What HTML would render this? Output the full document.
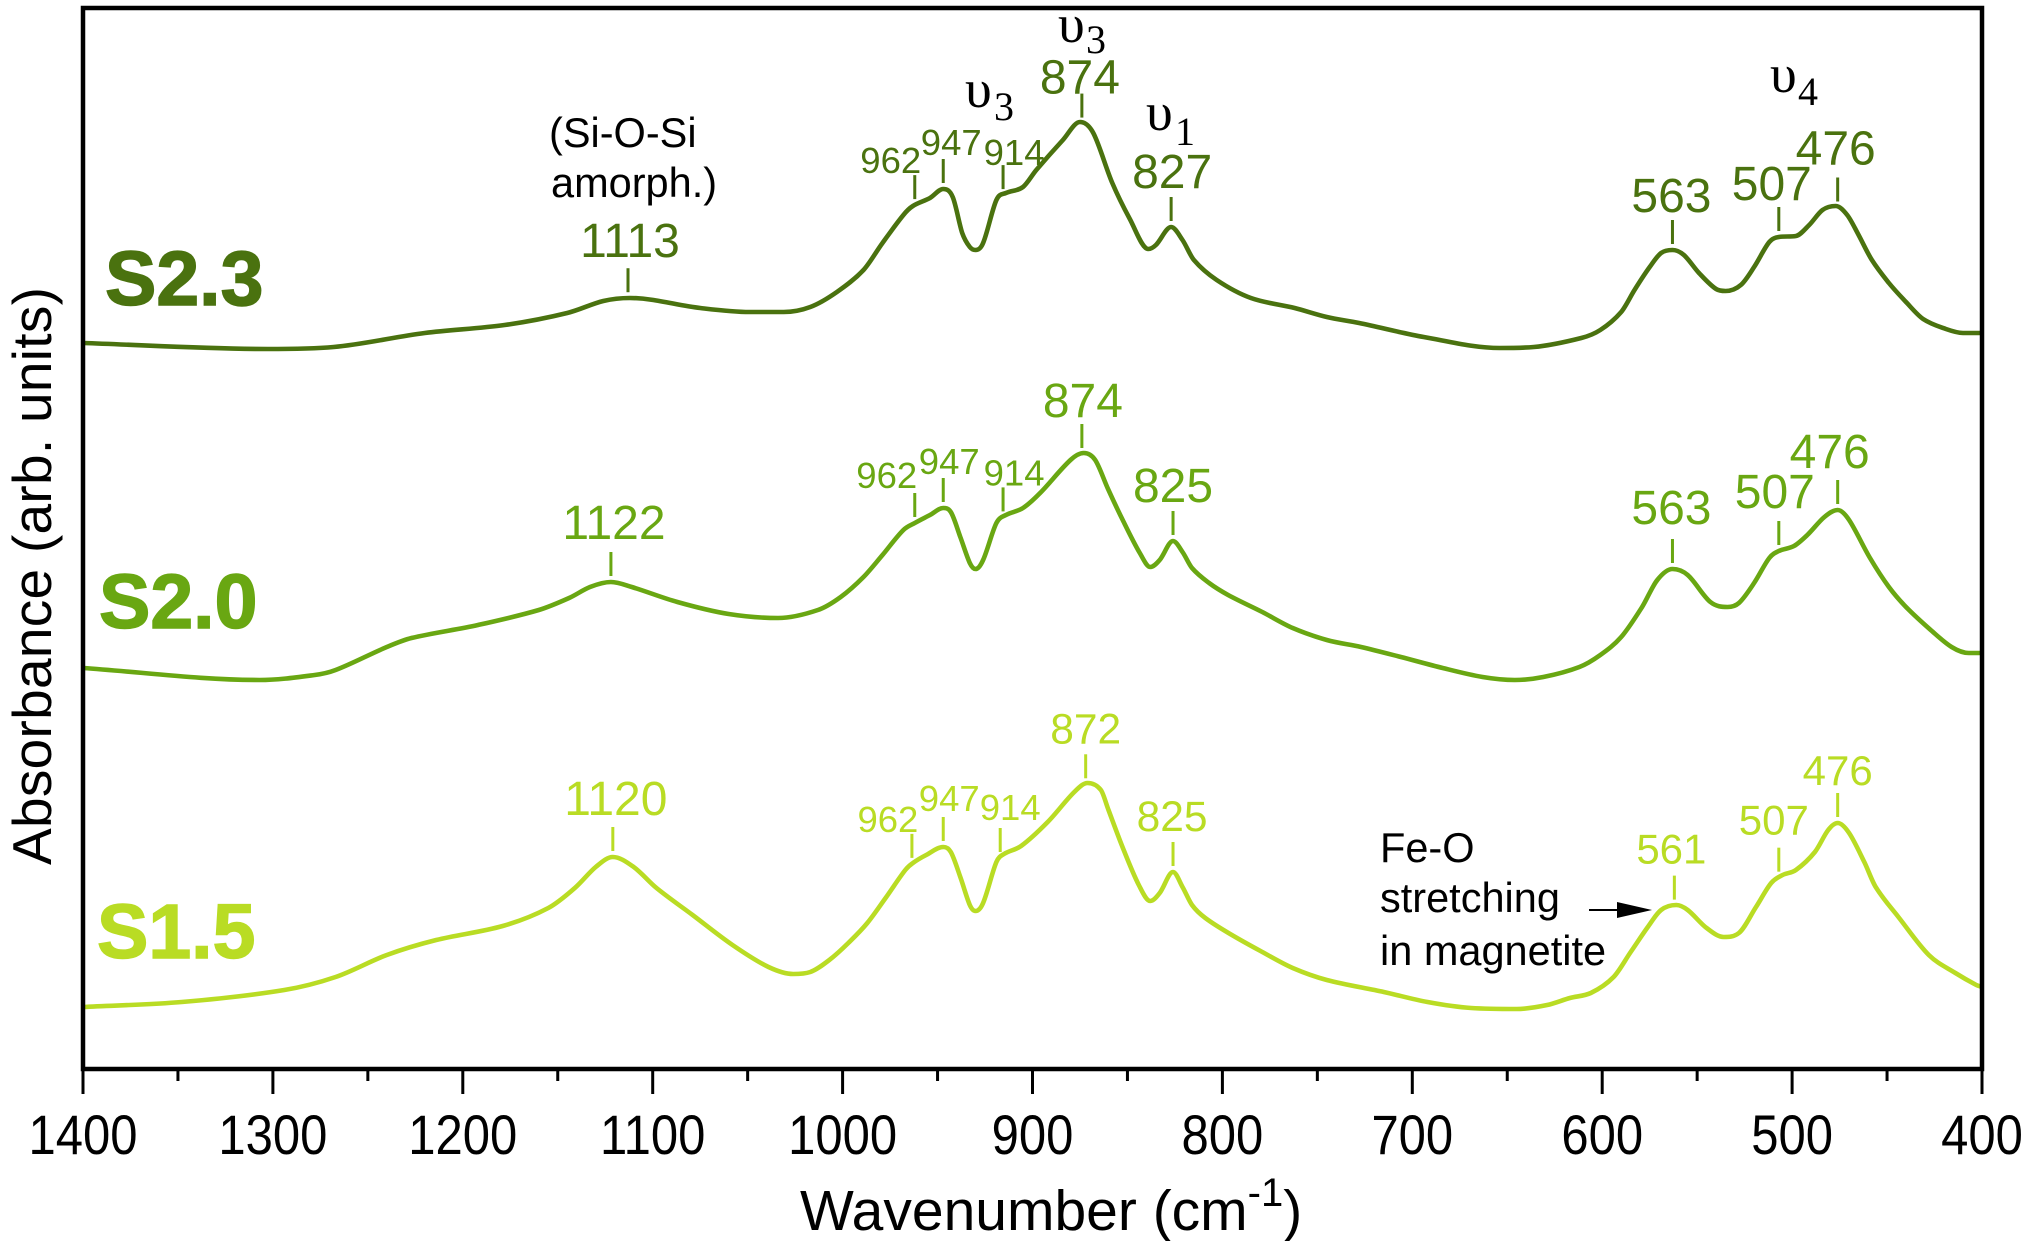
<!DOCTYPE html>
<html lang="en">
<head>
<meta charset="utf-8">
<title>FTIR absorbance spectra</title>
<style>
html,body{margin:0;padding:0;background:#fff;}
svg{display:block;}
text{font-family:"Liberation Sans",sans-serif;}
.greek{font-family:"Liberation Serif",serif;fill:#000;}
.note{fill:#000;}
</style>
</head>
<body>
<svg id="chart" xmlns="http://www.w3.org/2000/svg" width="2030" height="1241" viewBox="0 0 2030 1241">
  <rect x="0" y="0" width="2030" height="1241" fill="#fff"/>
  <g id="curves"></g>
  <g id="peaks"></g>
  <rect x="83" y="8" width="1899" height="1061" fill="none" stroke="#000" stroke-width="4.5"/>
  <g id="ticks"></g>

  <text x="800" y="1230" font-size="57" fill="#000">Wavenumber (cm<tspan font-size="40" dy="-24">-1</tspan><tspan dy="24">)</tspan></text>
  <text transform="translate(51,865) rotate(-90)" font-size="55" fill="#000" textLength="578">Absorbance (arb. units)</text>

  <text x="105" y="305" font-size="77" font-weight="700" fill="#4a720f" stroke="#4a720f" stroke-width="1.5">S2.3</text>
  <text x="99" y="628" font-size="77" font-weight="700" fill="#69a712" stroke="#69a712" stroke-width="1.5">S2.0</text>
  <text x="97" y="958" font-size="77" font-weight="700" fill="#b9dc24" stroke="#b9dc24" stroke-width="1.5">S1.5</text>

  <text class="note" x="549" y="147" font-size="41.5">(Si-O-Si</text>
  <text class="note" x="551" y="197" font-size="41.5">amorph.)</text>

  <text class="greek" x="965" y="107" font-size="54">υ</text>
  <text class="greek" x="994" y="120" font-size="40">3</text>
  <text class="greek" x="1058" y="42" font-size="54">υ</text>
  <text class="greek" x="1086" y="53" font-size="40">3</text>
  <text class="greek" x="1146" y="130" font-size="54">υ</text>
  <text class="greek" x="1175" y="145" font-size="40">1</text>
  <text class="greek" x="1770" y="92" font-size="54">υ</text>
  <text class="greek" x="1798" y="105" font-size="40">4</text>

  <text class="note" x="1380" y="862" font-size="41.5">Fe-O</text>
  <text class="note" x="1380" y="912" font-size="41.5">stretching</text>
  <text class="note" x="1380" y="965" font-size="41.5">in magnetite</text>
  <line x1="1589" y1="910" x2="1620" y2="910" stroke="#000" stroke-width="2"/>
  <polygon points="1617,902 1652,910 1617,918" fill="#000"/>
</svg>

<script>
// ---------- chart data (absorbance in arbitrary units) ----------
const majorTicks = [1400,1300,1200,1100,1000,900,800,700,600,500,400];
const minorTicks = [1350,1250,1150,1050,950,850,750,650,550,450];

const s23Wavenumbers = [1400,1303,1268,1220,1178,1145,1126,1112,1075,1049,1031,1017,1003,989,979,968,963,954,947,942,937,933,930,926,919,914,905,898,884,875,868,858,849,839,835,827,821,815,803,785,762,745,728,694,654,636,611,601,590,583,575,569,563,557,549,540,535,527,520,512,507,498,491,484,477,471,465,458,449,440,431,419,410,400];
const s23Values = [7.26,7.20,7.22,7.36,7.44,7.56,7.68,7.71,7.61,7.57,7.57,7.62,7.77,7.99,8.26,8.54,8.63,8.71,8.80,8.72,8.36,8.22,8.19,8.26,8.69,8.76,8.82,8.99,9.29,9.47,9.36,8.86,8.51,8.20,8.24,8.42,8.29,8.09,7.89,7.71,7.61,7.52,7.46,7.32,7.21,7.22,7.31,7.39,7.57,7.79,8.02,8.16,8.19,8.14,7.96,7.80,7.78,7.84,8.02,8.27,8.32,8.33,8.44,8.59,8.63,8.54,8.34,8.09,7.86,7.67,7.50,7.40,7.36,7.36];

const s20Wavenumbers = [1400,1307,1278,1267,1240,1227,1192,1160,1144,1133,1122,1111,1087,1060,1034,1013,1001,989,979,968,962,954,947,943,938,933,930,926,919,914,905,896,880,873,867,860,852,843.5,838,833,826,821,816,807,797,779,763,745,727,706,684,663,646,631,612,601,590,579,571,563,555,543,534,528,520,512,507,499,492,483,476,470,459,449,440,427,416,407,400];
const s20Values = [4.01,3.89,3.94,3.99,4.22,4.31,4.44,4.59,4.71,4.82,4.87,4.82,4.67,4.55,4.51,4.59,4.72,4.92,5.14,5.39,5.46,5.54,5.61,5.57,5.32,5.06,5.00,5.09,5.46,5.54,5.61,5.76,6.09,6.16,6.09,5.79,5.47,5.16,5.02,5.09,5.28,5.17,5.01,4.86,4.74,4.57,4.41,4.29,4.22,4.12,4.01,3.92,3.89,3.92,4.02,4.14,4.32,4.62,4.89,5.00,4.94,4.67,4.62,4.66,4.86,5.11,5.18,5.23,5.34,5.52,5.59,5.49,5.11,4.82,4.62,4.39,4.22,4.16,4.16];

const s15Wavenumbers = [1400,1348,1294,1267,1240,1214,1179,1155,1141,1130,1121,1110,1098,1079,1058,1039,1026,1017,1007,997,987,977,967,963,956,947,943,938,933,930,926,919,915,906,892,878,871,864,860,852,844,838,833,826,821,816,809,795,779,763,745,715,692,669,645,629,617,606,594,585,576,569,561,555,545,536,528,519,511,505,498,488,481,476,470,462,456,444,428,414,403,400];
const s15Values = [0.62,0.67,0.79,0.92,1.14,1.29,1.43,1.61,1.81,2.02,2.12,2.02,1.81,1.54,1.24,1.02,0.95,0.97,1.09,1.26,1.46,1.72,1.99,2.06,2.14,2.22,2.17,1.92,1.64,1.58,1.66,2.07,2.15,2.23,2.47,2.77,2.86,2.79,2.59,2.19,1.84,1.68,1.76,1.97,1.82,1.64,1.51,1.34,1.17,1.01,0.89,0.77,0.67,0.61,0.60,0.64,0.71,0.76,0.92,1.17,1.42,1.59,1.64,1.59,1.41,1.32,1.36,1.62,1.86,1.94,1.99,2.17,2.39,2.46,2.36,2.07,1.82,1.52,1.14,0.96,0.84,0.82];

// ---------- axis functions ----------
const SVGNS = 'http://www.w3.org/2000/svg';
const plotLeft = 83, plotRight = 1982, plotBottom = 1069;
function xScale(w){ return plotLeft + (1400 - w) * (plotRight - plotLeft) / 1000; }
function yScale(v){ return plotBottom - v * 100; }

function interpolate(ws, vs, w){
  for (let i = 0; i < ws.length - 1; i++) {
    if (w <= ws[i] && w >= ws[i + 1]) {
      const t = (ws[i] - w) / (ws[i] - ws[i + 1]);
      return vs[i] + t * (vs[i + 1] - vs[i]);
    }
  }
  return vs[vs.length - 1];
}

function smoothPath(ws, vs){
  const px = ws.map(xScale), py = vs.map(yScale), n = px.length;
  const d = [], m = new Array(n);
  for (let i = 0; i < n - 1; i++) d.push((py[i + 1] - py[i]) / (px[i + 1] - px[i]));
  m[0] = d[0]; m[n - 1] = d[n - 2];
  for (let i = 1; i < n - 1; i++) {
    if (d[i - 1] * d[i] <= 0) { m[i] = 0; continue; }
    const central = (py[i + 1] - py[i - 1]) / (px[i + 1] - px[i - 1]);
    const limit = 3 * Math.min(Math.abs(d[i - 1]), Math.abs(d[i]));
    m[i] = Math.sign(central) * Math.min(Math.abs(central), limit);
  }
  let path = 'M' + px[0].toFixed(1) + ' ' + py[0].toFixed(1);
  for (let i = 0; i < n - 1; i++) {
    const h = (px[i + 1] - px[i]) / 3;
    path += 'C' + (px[i] + h).toFixed(1) + ' ' + (py[i] + m[i] * h).toFixed(1) + ' ' +
      (px[i + 1] - h).toFixed(1) + ' ' + (py[i + 1] - m[i + 1] * h).toFixed(1) + ' ' +
      px[i + 1].toFixed(1) + ' ' + py[i + 1].toFixed(1);
  }
  return path;
}

// ---------- x axis ----------
const tickGroup = document.getElementById('ticks');
function drawTick(w, length, name){
  const el = document.createElementNS(SVGNS, 'line');
  
  
  el.setAttribute('x1', xScale(w));
  el.setAttribute('x2', xScale(w));
  el.setAttribute('y1', plotBottom);
  el.setAttribute('y2', plotBottom + length);
  el.setAttribute('stroke', '#000');
  el.setAttribute('stroke-width', '3');
  tickGroup.appendChild(el);
}
majorTicks.forEach(function(w){
  drawTick(w, 25, 'x-major-tick-' + w);
  const el = document.createElementNS(SVGNS, 'text');
  
  
  el.setAttribute('transform', 'translate(' + xScale(w) + ',1154) scale(1,1.13)');
  el.setAttribute('text-anchor', 'middle');
  el.setAttribute('font-size', '49');
  el.setAttribute('fill', '#000');
  el.textContent = String(w);
  tickGroup.appendChild(el);
});
minorTicks.forEach(function(w){
  drawTick(w, 12, 'x-minor-tick-' + w);
});

// ---------- spectra ----------
const curveGroup = document.getElementById('curves');
function drawCurve(ws, vs, color, name){
  const el = document.createElementNS(SVGNS, 'path');
  
  
  el.setAttribute('d', smoothPath(ws, vs));
  el.setAttribute('fill', 'none');
  el.setAttribute('stroke', color);
  el.setAttribute('stroke-width', '4.6');
  el.setAttribute('stroke-linejoin', 'round');
  curveGroup.appendChild(el);
}
const colorS23 = '#4a720f', colorS20 = '#69a712', colorS15 = '#b9dc24';
drawCurve(s23Wavenumbers, s23Values, colorS23, 'spectrum-s2-3');
drawCurve(s20Wavenumbers, s20Values, colorS20, 'spectrum-s2-0');
drawCurve(s15Wavenumbers, s15Values, colorS15, 'spectrum-s1-5');

// ---------- peak ticks and labels ----------
const peakGroup = document.getElementById('peaks');
function annotatePeak(ws, vs, color, prefix, w, text, size, dx, gap){
  const x = xScale(w);
  const bottom = yScale(interpolate(ws, vs, w)) - 6;
  const top = bottom - 24;
  const tick = document.createElementNS(SVGNS, 'line');
  
  
  tick.setAttribute('x1', x);
  tick.setAttribute('x2', x);
  tick.setAttribute('y1', top);
  tick.setAttribute('y2', bottom);
  tick.setAttribute('stroke', color);
  tick.setAttribute('stroke-width', '3');
  peakGroup.appendChild(tick);
  const label = document.createElementNS(SVGNS, 'text');
  
  
  label.setAttribute('x', x + dx);
  label.setAttribute('y', top - gap);
  label.setAttribute('text-anchor', 'middle');
  label.setAttribute('font-size', size);
  label.setAttribute('fill', color);
  label.textContent = text;
  peakGroup.appendChild(label);
}
function peakS23(w, text, size, dx, gap){ annotatePeak(s23Wavenumbers, s23Values, colorS23, 's2-3', w, text, size, dx, gap); }
function peakS20(w, text, size, dx, gap){ annotatePeak(s20Wavenumbers, s20Values, colorS20, 's2-0', w, text, size, dx, gap); }
function peakS15(w, text, size, dx, gap){ annotatePeak(s15Wavenumbers, s15Values, colorS15, 's1-5', w, text, size, dx, gap); }

peakS23(1113, '1113', 48, 2, 11);
peakS23(962, '962', 36.5, -24, 2);
peakS23(947, '947', 36.5, 8, 4);
peakS23(915.5, '914', 36.5, 11, 0);
peakS23(874, '874', 48, -2, 0);
peakS23(827, '827', 48, 1, 9);
peakS23(563, '563', 48, -1, 8);
peakS23(507, '507', 48, -7, 7);
peakS23(476, '476', 48, -2, 13);

peakS20(1122, '1122', 48, 3, 13);
peakS20(962, '962', 36.5, -28, 5);
peakS20(947, '947', 36.5, 6, 4);
peakS20(915.5, '914', 36.5, 11, 2);
peakS20(874, '874', 48, 1, 7);
peakS20(826, '825', 48, 0, 9);
peakS20(563, '563', 48, -1, 15);
peakS20(507, '507', 48, -4, 13);
peakS20(476, '476', 48, -8, 12);

peakS15(1121, '1120', 48, 3, 12);
peakS15(963.5, '962', 36.5, -24, 2);
peakS15(947, '947', 36.5, 6, 6);
peakS15(917, '914', 36.5, 10, 8);
peakS15(872, '872', 42.5, 0, 11);
peakS15(826, '825', 42.5, -1, 11);
peakS15(562, '561', 42, -3, 12);
peakS15(507, '507', 42, -5, 13);
peakS15(476, '476', 42, 0, 8);
</script>
</body>
</html>
